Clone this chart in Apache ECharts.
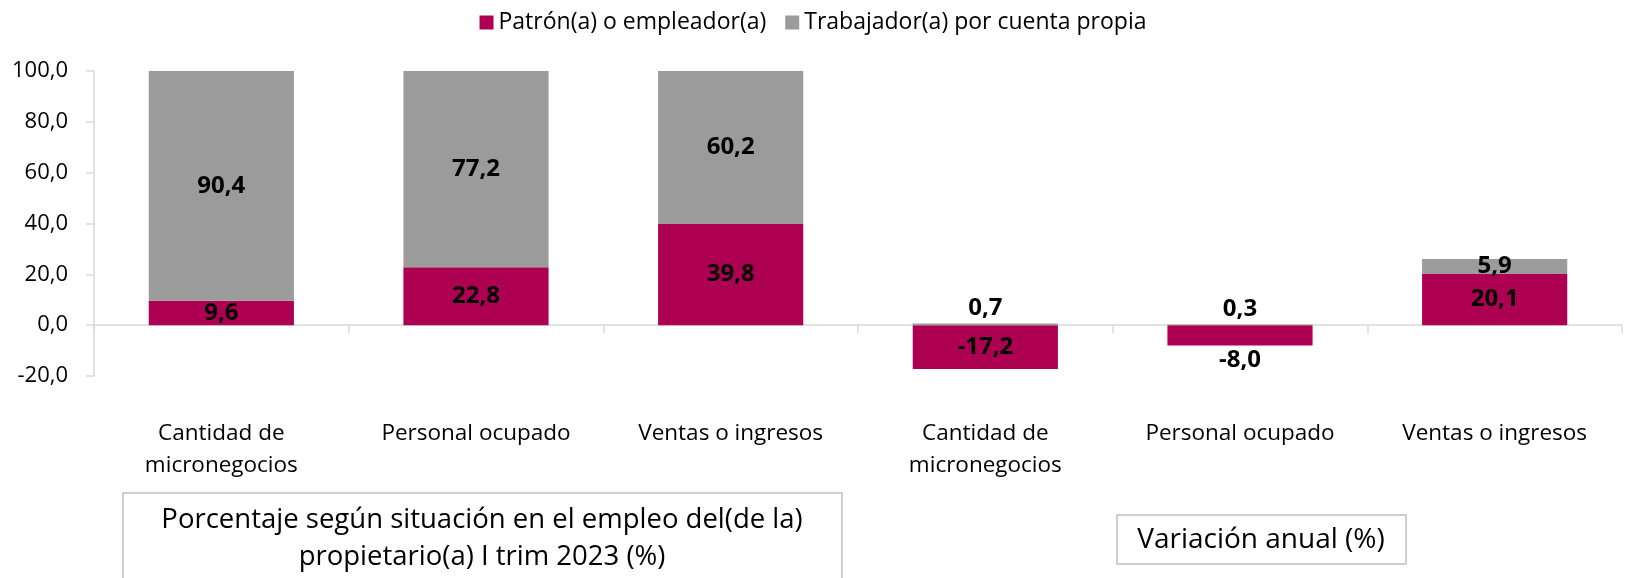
<!DOCTYPE html>
<html>
<head>
<meta charset="utf-8">
<script src="https://cdn.jsdelivr.net/npm/echarts@6/dist/echarts.min.js"></script>
<style>
    body { margin: 0; background: #fff; }
    #myChart { width: 1626px; height: 578px; }
</style>
</head>
<body>
<div id="myChart"></div>
<script>
var categories = ['Cantidad de\nmicronegocios', 'Personal ocupado', 'Ventas o ingresos',
                  'Cantidad de\nmicronegocios', 'Personal ocupado', 'Ventas o ingresos'];
var patron = [9.6, 22.8, 39.8, -17.2, -8.0, 20.1];
var cuentaPropia = [90.4, 77.2, 60.2, 0.7, 0.3, 5.9];
var yTicks = { min: -20, max: 100, interval: 20 };
var legendNames = ['Patrón(a) o empleador(a)', 'Trabajador(a) por cuenta propia'];
var boxTitles = ['Porcentaje según situación en el empleo del(de la)\npropietario(a) I trim 2023 (%)', 'Variación anual (%)'];

var fontFam = '"Open Sans", "Noto Sans", sans-serif';
var axisColor = '#d9d9d9';

function fmt(v) {
    return v.toFixed(1).replace('.', ',');
}

var chartDom = document.getElementById('myChart');
var myChart = echarts.init(chartDom);
var option;

// labels: tiny segments go outside the bar
var patronData = patron.map(function (v) {
    var pos = 'inside';
    if (v < 0 && v > -10) pos = 'bottom';
    return { value: v, label: { position: pos } };
});
var propiaData = cuentaPropia.map(function (v) {
    return { value: v, label: { position: v < 2 ? 'top' : 'inside' } };
});

var barLabel = {
    show: true,
    color: '#000',
    fontSize: 24,
    fontWeight: 'bold',
    fontFamily: fontFam,
    distance: 3,
    formatter: function (p) { return fmt(p.value); }
};

option = {
    animation: false,
    textStyle: { fontFamily: fontFam },
    legend: {
        data: legendNames,
        top: 6,
        left: 'center',
        itemWidth: 14,
        itemHeight: 14,
        itemGap: 19,
        icon: 'rect',
        textStyle: { color: '#000', fontSize: 23, fontFamily: fontFam }
    },
    grid: {
        left: 94,
        right: 4,
        top: 71,
        bottom: 202,
        containLabel: false
    },
    xAxis: [
        {
            type: 'category',
            data: categories,
            axisLine: { onZero: true, lineStyle: { color: axisColor, width: 1.5 } },
            axisTick: { show: true, length: 8, lineStyle: { color: axisColor, width: 1.5 } },
            axisLabel: { show: false }
        },
        {
            type: 'category',
            data: categories,
            position: 'bottom',
            axisLine: { show: false, onZero: false },
            axisTick: { show: false },
            axisLabel: {
                color: '#000',
                fontSize: 22.5,
                lineHeight: 32,
                margin: 42,
                fontFamily: fontFam
            }
        }
    ],
    yAxis: {
        type: 'value',
        min: yTicks.min,
        max: yTicks.max,
        interval: yTicks.interval,
        axisLine: { show: true, lineStyle: { color: axisColor, width: 1.5 } },
        axisTick: { show: true, length: 8, lineStyle: { color: axisColor, width: 1.5 } },
        splitLine: { show: false },
        axisLabel: {
            color: '#000',
            fontSize: 22,
            margin: 26,
            fontFamily: fontFam,
            formatter: function (v) { return fmt(v); }
        }
    },
    series: [
        {
            name: legendNames[0],
            type: 'bar',
            stack: 'total',
            barCategoryGap: '43%',
            itemStyle: { color: '#ad0052' },
            label: barLabel,
            data: patronData
        },
        {
            name: legendNames[1],
            type: 'bar',
            stack: 'total',
            barCategoryGap: '43%',
            itemStyle: { color: '#9b9b9b' },
            label: barLabel,
            data: propiaData
        }
    ],
    graphic: [
        {
            type: 'rect',
            shape: { x: 123, y: 493, width: 719, height: 120 },
            style: { fill: '#fff', stroke: '#bfbfbf', lineWidth: 1.5 }
        },
        {
            type: 'text',
            x: 482,
            y: 539,
            style: {
                text: boxTitles[0],
                fill: '#000',
                font: '27.5px ' + fontFam,
                lineHeight: 37,
                align: 'center',
                verticalAlign: 'middle'
            }
        },
        {
            type: 'rect',
            shape: { x: 1117, y: 515, width: 289, height: 49 },
            style: { fill: '#fff', stroke: '#bfbfbf', lineWidth: 1.5 }
        },
        {
            type: 'text',
            x: 1261,
            y: 540,
            style: {
                text: boxTitles[1],
                fill: '#000',
                font: '28px ' + fontFam,
                align: 'center',
                verticalAlign: 'middle'
            }
        }
    ]
};

option && myChart.setOption(option);
</script>
</body>
</html>
